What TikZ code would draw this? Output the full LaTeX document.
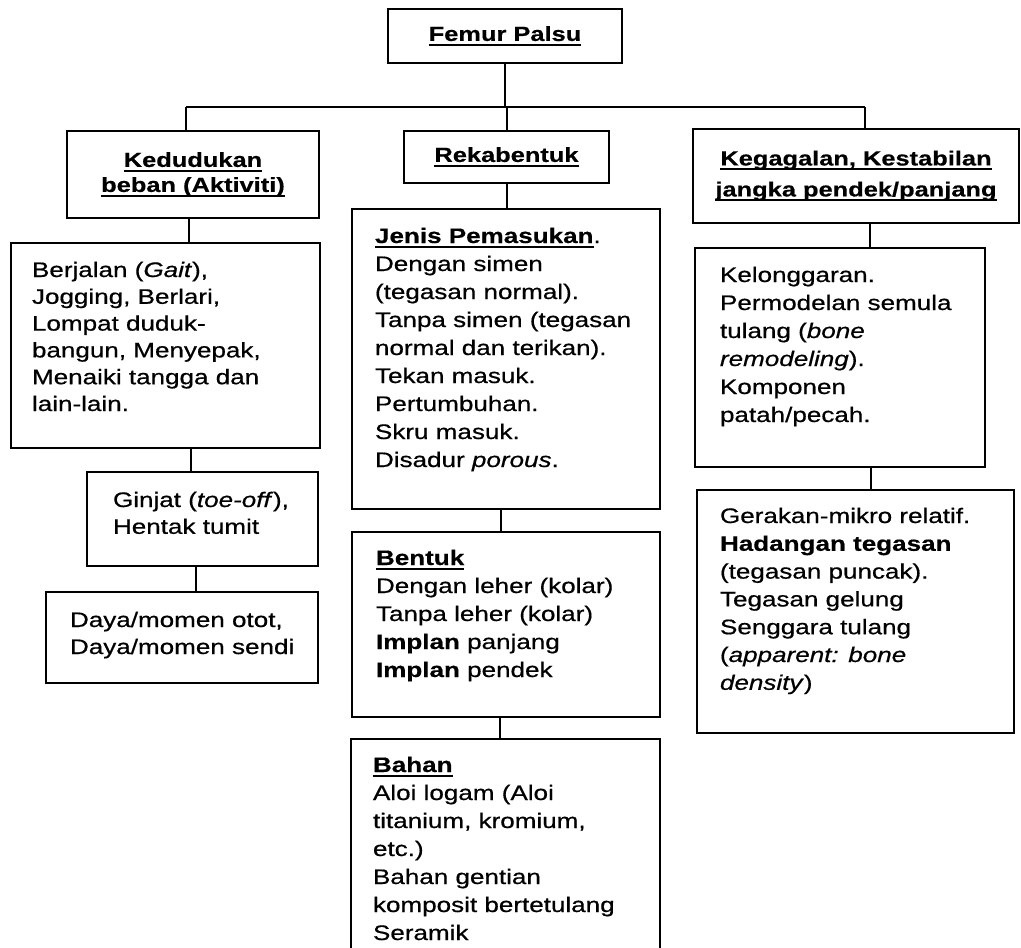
\documentclass[tikz,border=0pt]{standalone}
\usepackage{fontspec}
\setmainfont{Liberation Sans}[FakeStretch=1.24, UprightFeatures={FakeBold=0.6}, ItalicFeatures={FakeBold=0.6}, BoldFeatures={FakeBold=0.4}]
\usetikzlibrary{calc}
\newcommand{\uln}[1]{\setbox0=\hbox{#1}\rlap{\rule[-5pt]{\wd0}{2pt}}\box0}
% w h padl firstbase skip content
\newcommand{\bxtext}[6]{\parbox[c][#2][t]{#1}{\fontsize{21pt}{#5}\selectfont\hspace*{#3}\parbox[t]{\dimexpr#1-#3\relax}{\raggedright\rule{0pt}{#4}#6}}}
\tikzset{
  textbox/.style={draw, line width=2.2pt, inner sep=0pt, outer sep=0pt, anchor=north west},
  headbox/.style={draw, line width=2.2pt, inner sep=0pt, outer sep=0pt, anchor=north west, align=center},
  link/.style={line width=2pt}
}
\begin{document}
\begin{tikzpicture}[x=1pt,y=-1pt]
\useasboundingbox (0,0) rectangle (1021,948);
\clip (0,0) rectangle (1021,948);
\fill[white] (0,0) rectangle (1021,948);

% headings
\node[headbox, minimum width=234pt, minimum height=54pt, font=\fontsize{20.5pt}{25pt}\selectfont\bfseries] (femur) at (388,9) {\uln{Femur Palsu}};
\node[headbox, minimum width=252pt, minimum height=87pt, font=\fontsize{20.5pt}{25pt}\selectfont\bfseries] (kedud) at (67,131) {\uln{Kedudukan}\\\uln{beban (Aktiviti)}};
\node[headbox, minimum width=205pt, minimum height=52pt, font=\fontsize{20.5pt}{25pt}\selectfont\bfseries] (rekab) at (404,131) {\uln{Rekabentuk}};
\node[headbox, minimum width=326pt, minimum height=94pt, font=\fontsize{20.5pt}{31pt}\selectfont\bfseries] (kegag) at (693,129) {\uln{Kegagalan, Kestabilan}\\\uln{jangka pendek/panjang}};

% left column
\node[textbox] (berj) at (11,243) {\bxtext{309pt}{205pt}{21pt}{34pt}{26.8pt}{Berjalan (\textit{Gait}),\\Jogging, Berlari,\\Lompat duduk-\\bangun, Menyepak,\\Menaiki tangga dan\\lain-lain.}};
\node[textbox] (ginj) at (87,472) {\bxtext{231pt}{94pt}{26pt}{35pt}{26.8pt}{Ginjat (\textit{toe-off}),\\Hentak tumit}};
\node[textbox] (daya) at (46,592) {\bxtext{272pt}{91pt}{24pt}{35pt}{27pt}{Daya/momen otot,\\Daya/momen sendi}};

% middle column
\node[textbox] (jenis) at (352,209) {\bxtext{308pt}{300pt}{23pt}{34pt}{28pt}{\textbf{\uln{Jenis Pemasukan}}.\\Dengan simen\\(tegasan normal).\\Tanpa simen (tegasan\\normal dan terikan).\\Tekan masuk.\\Pertumbuhan.\\Skru masuk.\\Disadur \textit{porous}.}};
\node[textbox] (bentuk) at (352,532) {\bxtext{308pt}{185pt}{24pt}{33pt}{28pt}{\textbf{\uln{Bentuk}}\\Dengan leher (kolar)\\Tanpa leher (kolar)\\\textbf{Implan} panjang\\\textbf{Implan} pendek}};
\node[textbox] (bahan) at (351,739) {\bxtext{309pt}{235pt}{22pt}{33pt}{28pt}{\textbf{\uln{Bahan}}\\Aloi logam (Aloi\\titanium, kromium,\\etc.)\\Bahan gentian\\komposit bertetulang\\Seramik}};

% right column
\node[textbox] (kelong) at (695,248) {\bxtext{290pt}{219pt}{25pt}{34pt}{28pt}{Kelonggaran.\\Permodelan semula\\tulang (\textit{bone}\\\textit{remodeling}).\\Komponen\\patah/pecah.}};
\node[textbox] (gerak) at (697,490) {\bxtext{317pt}{243pt}{23pt}{33pt}{27.8pt}{Gerakan-mikro relatif.\\\textbf{Hadangan tegasan}\\(tegasan puncak).\\Tegasan gelung\\Senggara tulang\\(\textit{apparent: bone}\\\textit{density})}};

% connector helpers
\coordinate (hl) at (186,107);
\coordinate (hr) at (865,107);
\coordinate (xk) at (189,0);
\coordinate (xb) at (191,0);
\coordinate (xg) at (196,0);
\coordinate (xj) at (501,0);
\coordinate (xbt) at (500,0);
\coordinate (xr) at (870,0);
\coordinate (xr2) at (871,0);

% connectors
\draw[link] (hl) -- (hr);
\draw[link] (femur.south) -- (femur.south |- hl);
\draw[link] (hl) -- (hl |- kedud.north);
\draw[link] (hr) -- (hr |- kegag.north);
\draw[link] (rekab.north |- hl) -- (rekab.north);
\draw[link] (rekab.south) -- (rekab.south |- jenis.north);
\draw[link] (kedud.south -| xk) -- (berj.north -| xk);
\draw[link] (berj.south -| xb) -- (ginj.north -| xb);
\draw[link] (ginj.south -| xg) -- (daya.north -| xg);
\draw[link] (jenis.south -| xj) -- (bentuk.north -| xj);
\draw[link] (bentuk.south -| xbt) -- (bahan.north -| xbt);
\draw[link] (kegag.south -| xr) -- (kelong.north -| xr);
\draw[link] (kelong.south -| xr2) -- (gerak.north -| xr2);
\end{tikzpicture}
\end{document}
